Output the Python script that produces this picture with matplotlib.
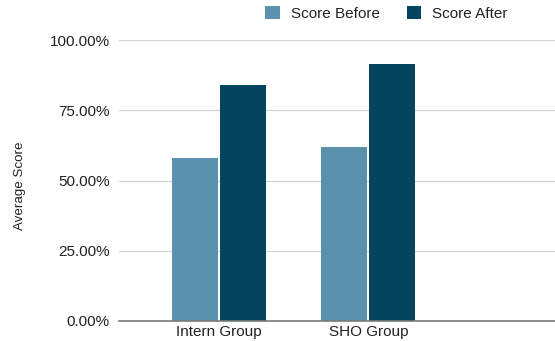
import matplotlib
matplotlib.use("Agg")
import matplotlib.pyplot as plt
import numpy as np
from matplotlib.ticker import FuncFormatter

categories = ["Intern Group", "SHO Group"]
score_before = [0.581, 0.620]
score_after = [0.840, 0.915]
series_names = ["Score Before", "Score After"]
y_ticks = [0.0, 0.25, 0.5, 0.75, 1.0]

plt.rcParams['font.family'] = ['Liberation Sans', 'DejaVu Sans']

fig = plt.figure(figsize=(5.55, 3.41), dpi=100)
ax = fig.add_axes([119/555, 1-321/341, 1-119/555, (321-40)/341])

x = np.arange(len(categories))
w = 0.308
c_before = "#5a92ae"
c_after = "#03455e"
ax.bar(x - 0.163, score_before, width=w, color=c_before, label=series_names[0], zorder=3)
ax.bar(x + 0.160, score_after, width=w, color=c_after, label=series_names[1], zorder=3)

ax.set_xlim(-0.669, 2.247)
ax.set_ylim(0, 1.0)
ax.set_yticks(y_ticks)
ax.yaxis.set_major_formatter(FuncFormatter(lambda v, p: f"{v*100:.2f}%"))
ax.set_xticks(x)
ax.set_xticklabels(categories)
ax.tick_params(axis='both', length=0, labelsize=11, colors="#222222")
ax.tick_params(axis='y', pad=6.5)
ax.tick_params(axis='x', pad=3)
ax.grid(axis='y', color="#d3d3d3", linewidth=0.9, zorder=0)
for s in ['top', 'right', 'left']:
    ax.spines[s].set_visible(False)
ax.spines['bottom'].set_color("#7a7a7a")
ax.spines['bottom'].set_linewidth(1.2)
ax.spines['bottom'].set_zorder(4)

fig.text(20/555, 1-186/341, "Average Score", rotation=90, ha='center', va='center',
         fontsize=9.6, color="#222222")

fig.legend(loc='center', bbox_to_anchor=(386.5/555, 1-13.5/341), ncol=2, frameon=False,
           fontsize=11, handlelength=0.96, handleheight=0.96, handletextpad=0.72,
           columnspacing=1.75, labelcolor="#222222")

fig.savefig("out.png", dpi=100)
